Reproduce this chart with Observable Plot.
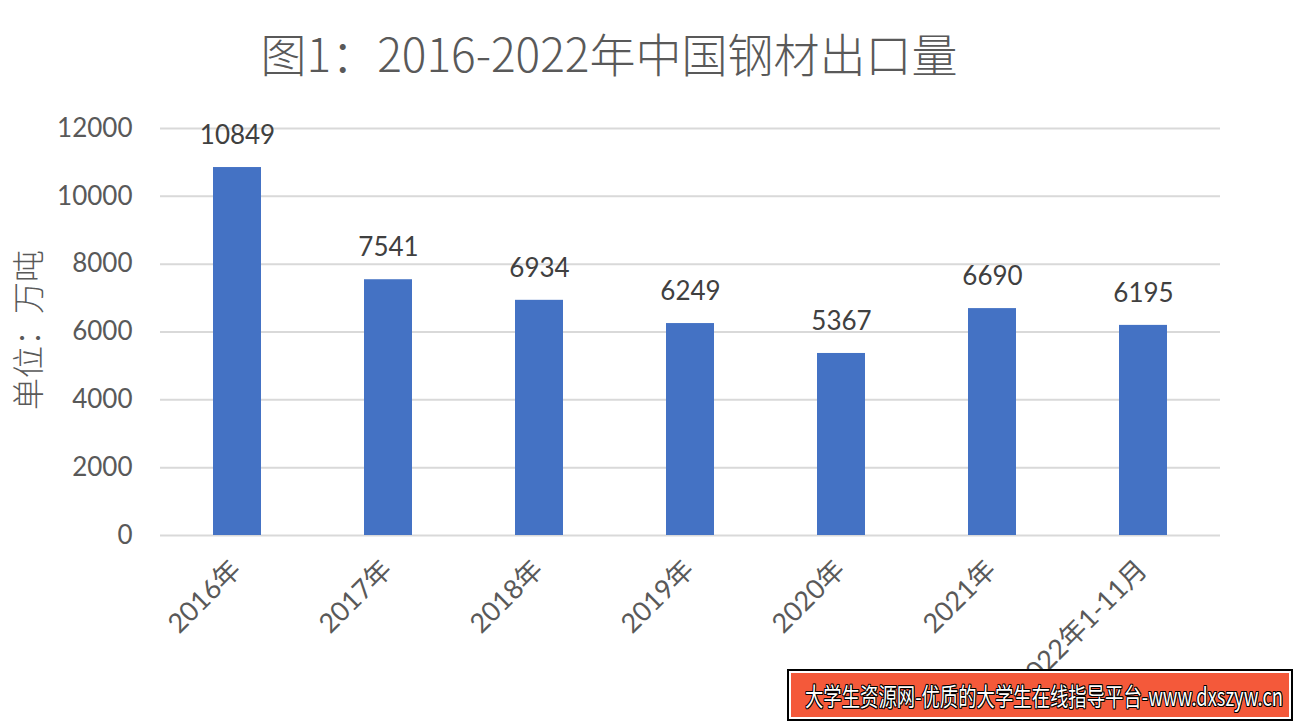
<!DOCTYPE html>
<html><head><meta charset="utf-8">
<script src="https://cdn.jsdelivr.net/npm/d3@7"></script>
<script src="https://cdn.jsdelivr.net/npm/@observablehq/plot@0.6"></script>
<style>
body{margin:0;background:#fff;width:1297px;height:725px;overflow:hidden;position:relative;font-family:Lato,"Noto Sans CJK SC",sans-serif;}
#title{position:absolute;left:0;top:22px;width:1218px;text-align:center;font-family:"Noto Sans CJK SC",sans-serif;font-weight:300;font-size:46px;color:#595959;line-height:60px;}
#chart{position:absolute;left:0;top:100px;}
#ylab{position:absolute;left:26px;top:330px;transform:translate(-50%,-50%) rotate(-90deg);font-family:"Noto Sans CJK SC",sans-serif;font-weight:300;font-size:32px;color:#595959;white-space:nowrap;}
#wm{position:absolute;left:787px;top:669px;width:502px;height:48px;border:2px solid #000;background:#fff;}
#wm .in{position:absolute;left:2px;top:2px;right:2px;bottom:2px;background:#F4593A;overflow:hidden;}
#wm span{position:absolute;left:14px;top:0;white-space:nowrap;color:#fff;font-family:"Noto Sans CJK SC",sans-serif;font-size:25px;line-height:44px;transform-origin:0 50%;
text-shadow:-1px -1px 0 #000,1px -1px 0 #000,-1px 1px 0 #000,1px 1px 0 #000,0 1px 0 #000,0 -1px 0 #000,1px 0 0 #000,-1px 0 0 #000;}
</style></head>
<body>
<div id="title">图1：2016-2022年中国钢材出口量</div>
<div id="chart"></div>
<div id="ylab">单位：万吨</div>
<div id="wm"><div class="in"><span id="wmt">大学生资源网-优质的大学生在线指导平台-www.dxszyw.cn</span></div></div>
<script>
const categories = ["2016年","2017年","2018年","2019年","2020年","2021年","2022年1-11月"];
const values = [10849, 7541, 6934, 6249, 5367, 6690, 6195];
const yTicks = [0, 2000, 4000, 6000, 8000, 10000, 12000];

const data = categories.map((c, i) => ({cat: c, v: values[i]}));

const chart = Plot.plot({
  width: 1297,
  height: 625,
  marginTop: 28,
  marginBottom: 190,
  marginLeft: 160,
  marginRight: 77,
  style: {fontFamily: 'Lato,"Noto Sans CJK SC",sans-serif', background: "transparent"},
  x: {domain: categories, paddingInner: 0.68, paddingOuter: 0.34},
  y: {domain: [0, 12000]},
  marks: [
    Plot.ruleY(yTicks, {stroke: "#d9d9d9", strokeWidth: 2}),
    Plot.barY(data, {x: "cat", y: "v", fill: "#4472C4"}),
    Plot.text(data, {x: "cat", y: "v", text: d => String(d.v), dy: -32, fill: "#404040", fontSize: 26}),
    Plot.axisY({ticks: yTicks, tickSize: 0, tickPadding: 28, fontSize: 26, fill: "#595959", tickFormat: d => String(d), label: null}),
    Plot.axisX({tickSize: 0, tickRotate: -45, fontSize: 27, fill: "#595959", label: null, dx: -1, dy: 18})
  ]
});
document.getElementById("chart").appendChild(chart);
const s = document.getElementById("wmt");
const w = s.getBoundingClientRect().width;
s.style.transform = `scaleX(${478 / w})`;
</script>
</body></html>
